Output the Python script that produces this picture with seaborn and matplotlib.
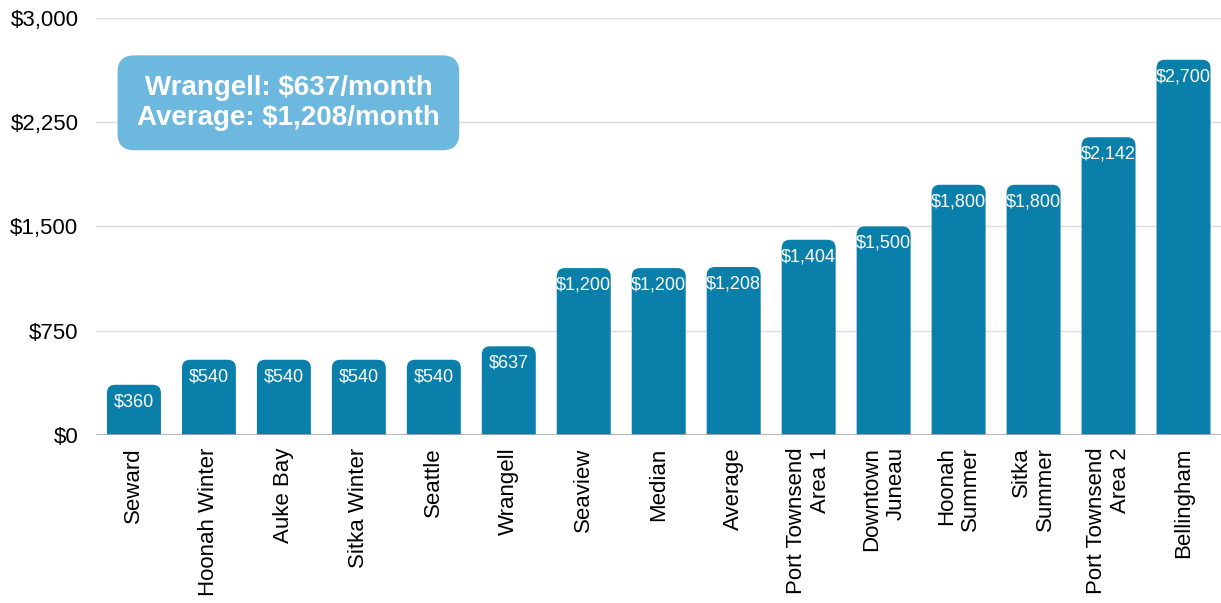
import pandas as pd
import matplotlib.pyplot as plt
import seaborn as sns
from matplotlib.patches import FancyBboxPatch
from matplotlib.ticker import FuncFormatter

# Monthly rent by location
locations = ["Seward", "Hoonah Winter", "Auke Bay", "Sitka Winter", "Seattle", "Wrangell",
             "Seaview", "Median", "Average", "Port Townsend\nArea 1", "Downtown\nJuneau",
             "Hoonah\nSummer", "Sitka\nSummer", "Port Townsend\nArea 2", "Bellingham"]
rents = [360, 540, 540, 540, 540, 637, 1200, 1200, 1208, 1404, 1500, 1800, 1800, 2142, 2700]
y_ticks = [0, 750, 1500, 2250, 3000]

BAR_COLOR = "#0a7fa9"
BOX_COLOR = "#6cb8de"


def main():
    df = pd.DataFrame({"Location": locations, "Rent": rents})

    sns.set_style("white")
    plt.rcParams['font.family'] = ['Liberation Sans', 'DejaVu Sans']

    fig = plt.figure(figsize=(12.21, 6.03), dpi=100)
    ax = fig.add_axes([0.079, 0.279, 0.921, 0.691])

    sns.barplot(x="Location", y="Rent", data=df, color=BAR_COLOR, width=0.72,
                saturation=1, ax=ax, zorder=2)

    # swap plain bars for rounded-top ones (bottom rounding falls below 0 and is clipped)
    ax.set_xlim(-0.5, len(locations) - 0.5)
    ax.set_ylim(0, 3000)
    for bar in list(ax.patches):
        x, w, h = bar.get_x(), bar.get_width(), bar.get_height()
        ext = 120
        rounded = FancyBboxPatch((x, -ext), w, h + ext,
                                 boxstyle="round,pad=0,rounding_size=0.11",
                                 mutation_aspect=545, facecolor=BAR_COLOR,
                                 edgecolor="none", zorder=2, clip_on=True)
        ax.add_patch(rounded)
        bar.set_visible(False)
        ax.annotate(f"${h:,.0f}", (x + w / 2, h), xytext=(0, -6),
                    textcoords="offset points", ha="center", va="top",
                    color="white", fontsize=13, fontweight="medium", zorder=3)

    ax.set_yticks(y_ticks)
    ax.yaxis.set_major_formatter(FuncFormatter(lambda v, _: f"${v:,.0f}"))
    ax.grid(axis="y", color="#dddddd", linewidth=1, zorder=0)
    ax.axhline(0, color="#aaaaaa", linewidth=1.2, zorder=3)
    sns.despine(ax=ax, left=True, bottom=True, top=True, right=True)

    ax.tick_params(axis="both", length=0, labelsize=16, colors="black")
    ax.tick_params(axis="y", pad=13)
    ax.tick_params(axis="x", pad=9)
    ax.set_xticks(range(len(locations)))
    ax.set_xticklabels(locations, rotation=90, ha="center", va="top",
                       multialignment="right")
    ax.set_xlabel("")
    ax.set_ylabel("")

    ax.text(2.06, 2390, "Wrangell: $637/month\nAverage: $1,208/month",
            ha="center", va="center", color="white", fontsize=20,
            fontweight="bold", linespacing=1.2, zorder=4,
            bbox=dict(boxstyle="round,pad=0.7,rounding_size=0.6",
                      facecolor=BOX_COLOR, edgecolor="none"))

    plt.savefig("out.png", dpi=100)


if __name__ == "__main__":
    main()
